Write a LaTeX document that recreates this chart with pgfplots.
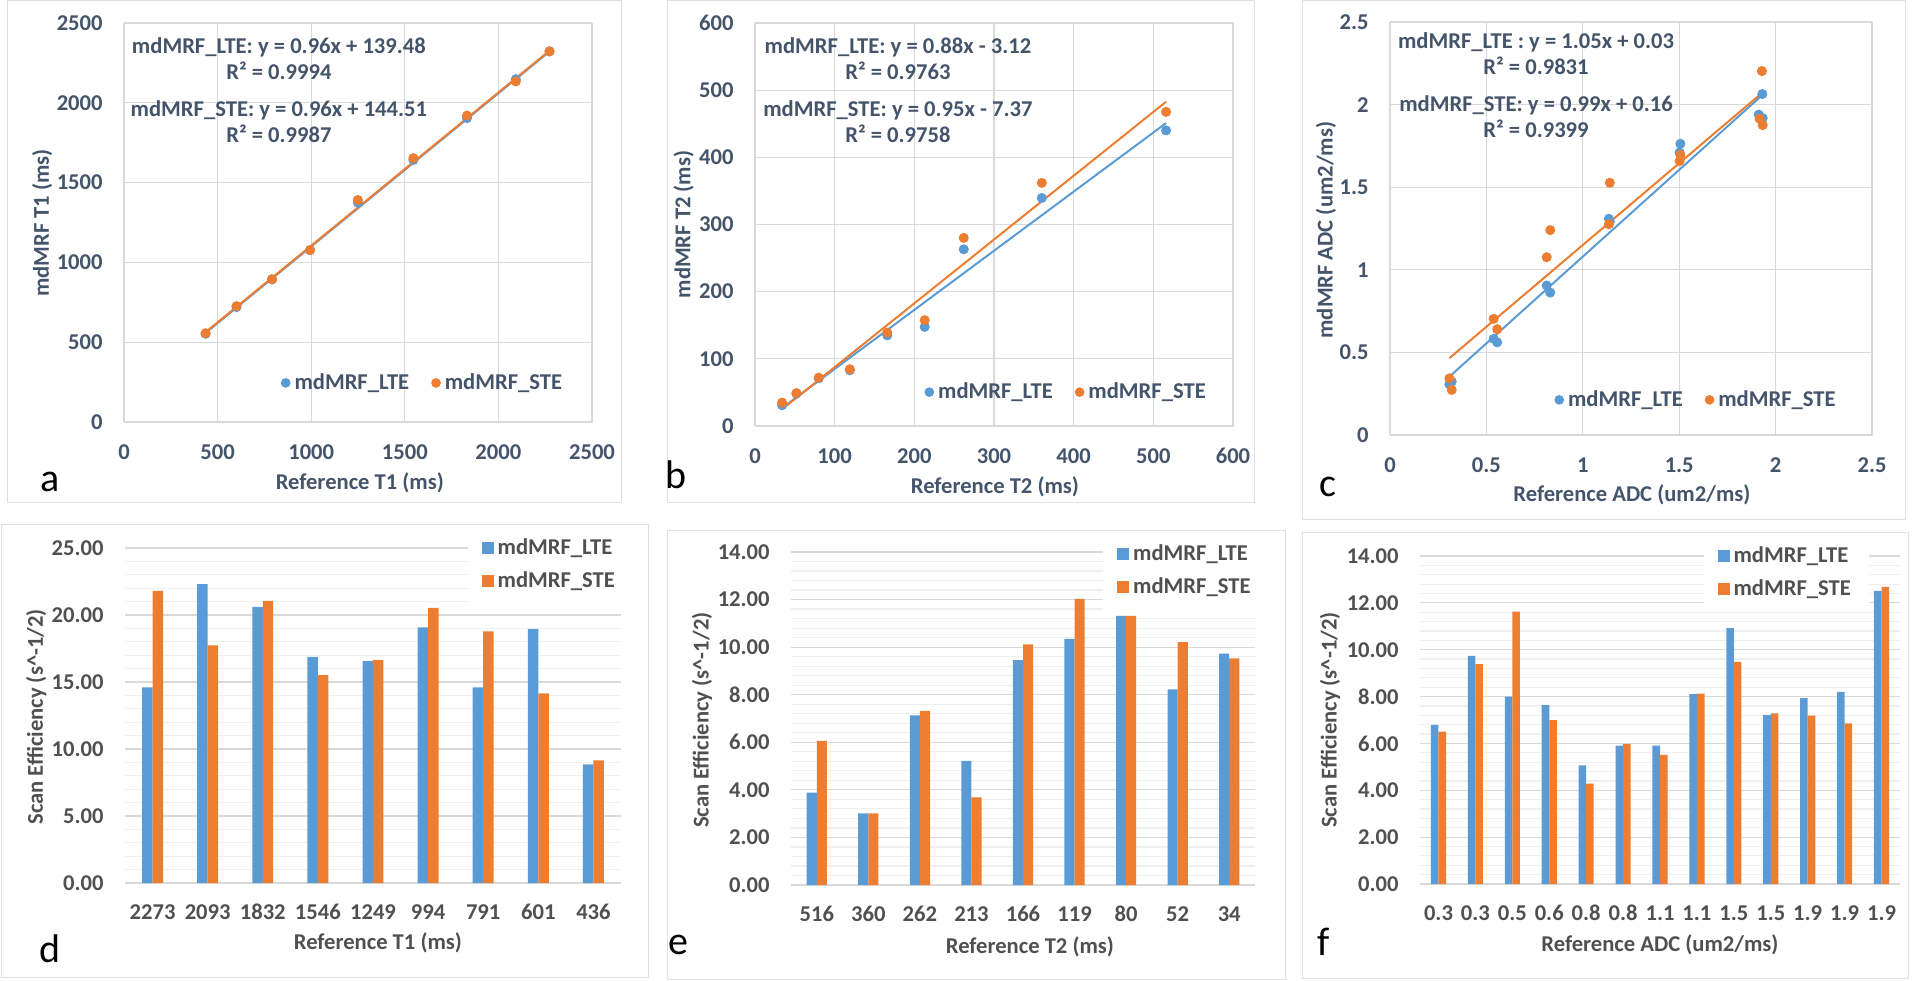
\documentclass[border=0pt]{standalone}
\usepackage{fontspec}
\setmainfont{Carlito}
\usepackage{pgfplots}
\pgfplotsset{compat=1.18}

\definecolor{lte}{HTML}{5B9BD5}
\definecolor{ste}{HTML}{ED7D31}
\definecolor{topc}{HTML}{44546A}
\definecolor{botc}{HTML}{505050}
\definecolor{gridc}{HTML}{D9D9D9}
\definecolor{minorc}{HTML}{EFEFEF}
\definecolor{framec}{HTML}{E0E0E0}
\newcommand{\tf}{\fontsize{11.3}{13}\selectfont\bfseries}

\pgfplotsset{
  scat/.style={
    scale only axis, anchor=south west,
    /pgf/number format/assume math mode=true,
    axis line style={draw=gridc},
    grid=major, major grid style={draw=gridc, line width=0.6pt},
    major tick length=0pt,
    tick label style={font=\tf, text=topc},
    label style={font=\tf, text=topc},
    yticklabel style={anchor=east, inner sep=0pt, xshift=-10.5pt},
    xticklabel style={anchor=center, inner sep=0pt, yshift=-15pt},
    legend columns=2,
    legend style={draw=none, fill=none, font=\tf, text=topc, anchor=center,
      /tikz/every even column/.append style={column sep=9pt}},
  },
  dot/.style={only marks, mark=*, mark size=2.3pt, mark options={draw=#1, fill=#1},
    legend image code/.code={\fill[#1] (2.2pt,0pt) circle (2.2pt);}},
  trend/.style={draw=#1, line width=1pt, no marks, forget plot},
  barc/.style={
    scale only axis, anchor=south west,
    /pgf/number format/assume math mode=true,
    axis x line*=bottom, axis y line*=left, axis line style={-},
    x axis line style={draw=gridc, line width=0.6pt}, y axis line style={draw=none},
    ymajorgrids, yminorgrids,
    major grid style={draw=gridc, line width=0.6pt},
    minor grid style={draw=minorc, line width=0.6pt},
    major tick length=0pt, minor tick length=0pt,
    ymin=0,
    tick label style={font=\tf, text=botc},
    label style={font=\tf, text=botc},
    yticklabel style={anchor=east, inner sep=0pt, xshift=-10.5pt},
    xticklabel style={anchor=center, inner sep=0pt, yshift=-14.5pt},
    legend cell align=left,
    legend style={draw=none, fill=white, font=\tf, text=botc, anchor=north west,
      inner xsep=7pt, inner ysep=4.5pt, row sep=3.2pt},
  },
  bars/.style={ybar, draw=none, fill=#1,
    legend image code/.code={\fill[#1] (0pt,-3pt) rectangle (6pt,3pt);}},
}

\begin{document}
\begin{tikzpicture}
\path[use as bounding box] (0pt,0pt) rectangle (960pt,490pt);

% panel frames
\draw[framec, line width=0.5pt] (3.5pt,489.5pt) rectangle (310.5pt,238.5pt);
\draw[framec, line width=0.5pt] (333.5pt,489.5pt) rectangle (627pt,238.5pt);
\draw[framec, line width=0.5pt] (651pt,489.5pt) rectangle (952.5pt,230pt);
\draw[framec, line width=0.5pt] (0.5pt,227.5pt) rectangle (324pt,1.5pt);
\draw[framec, line width=0.5pt] (333.5pt,224.5pt) rectangle (642.5pt,0.5pt);
\draw[framec, line width=0.5pt] (651pt,223.5pt) rectangle (954pt,1pt);

% ---------- a ----------
\begin{axis}[scat, at={(62pt,279pt)}, width=234pt, height=199.5pt,
  xmin=0, xmax=2500, ymin=0, ymax=2500,
  xtick={0,500,1000,1500,2000,2500}, xticklabels={0,500,1000,1500,2000,2500},
  ytick={0,500,1000,1500,2000,2500}, yticklabels={0,500,1000,1500,2000,2500},
  xlabel={Reference T1 (ms)}, ylabel={mdMRF T1 (ms)},
  xlabel style={at={(axis description cs:0.504,-0.153)}, anchor=center},
  ylabel style={at={(axis description cs:-0.175,0.499)}, anchor=center},
  legend style={at={(0.64,0.098)}}]
\addplot[dot=lte] coordinates {(436,553) (601,720) (791,893) (994,1077) (1249,1375) (1546,1642) (1832,1904) (2093,2148) (2273,2322)};
\addlegendentry{mdMRF\_LTE}
\addplot[dot=ste] coordinates {(436,556) (601,726) (791,895) (994,1077) (1249,1391) (1546,1653) (1832,1920) (2093,2134) (2273,2322)};
\addlegendentry{mdMRF\_STE}
\addplot[trend=lte] coordinates {(436,558.0) (2273,2321.6)};
\addplot[trend=ste] coordinates {(436,563.1) (2273,2326.6)};
\node[align=center, font=\tf, text=topc] at (rel axis cs:0.331,0.910) {mdMRF\_LTE: y = 0.96x + 139.48\\R² = 0.9994};
\node[align=center, font=\tf, text=topc] at (rel axis cs:0.331,0.752) {mdMRF\_STE: y = 0.96x + 144.51\\R² = 0.9987};
\end{axis}

% ---------- b ----------
\begin{axis}[scat, at={(377.5pt,277pt)}, width=239pt, height=201.5pt,
  xmin=0, xmax=600, ymin=0, ymax=600,
  xtick={0,100,...,600}, xticklabels={0,100,200,300,400,500,600},
  ytick={0,100,...,600}, yticklabels={0,100,200,300,400,500,600},
  xlabel={Reference T2 (ms)}, ylabel={mdMRF T2 (ms)},
  xlabel style={at={(axis description cs:0.502,-0.151)}, anchor=center},
  ylabel style={at={(axis description cs:-0.149,0.5)}, anchor=center},
  legend style={at={(0.653,0.084)}}]
\addplot[dot=lte] coordinates {(34,31) (52,48) (80,71) (119,83) (166,135) (213,147.6) (262,263) (360,339.5) (516,440)};
\addlegendentry{mdMRF\_LTE}
\addplot[dot=ste] coordinates {(34,34.8) (52,49) (80,72) (119,84.5) (166,139) (213,157.6) (262,280) (360,362) (516,467.7)};
\addlegendentry{mdMRF\_STE}
\addplot[trend=lte] coordinates {(34,26.8) (516,451.0)};
\addplot[trend=ste] coordinates {(34,24.9) (516,482.8)};
\node[align=center, font=\tf, text=topc] at (rel axis cs:0.299,0.911) {mdMRF\_LTE: y = 0.88x - 3.12\\R² = 0.9763};
\node[align=center, font=\tf, text=topc] at (rel axis cs:0.299,0.756) {mdMRF\_STE: y = 0.95x - 7.37\\R² = 0.9758};
\end{axis}

% ---------- c ----------
\begin{axis}[scat, at={(695pt,272.5pt)}, width=241pt, height=206.5pt,
  xmin=0, xmax=2.5, ymin=0, ymax=2.5,
  xtick={0,0.5,1,1.5,2,2.5}, xticklabels={0,0.5,1,1.5,2,2.5},
  ytick={0,0.5,1,1.5,2,2.5}, yticklabels={0,0.5,1,1.5,2,2.5},
  xlabel={Reference ADC (um2/ms)}, ylabel={mdMRF ADC (um2/ms)},
  xlabel style={at={(axis description cs:0.502,-0.145)}, anchor=center},
  ylabel style={at={(axis description cs:-0.133,0.496)}, anchor=center},
  legend style={at={(0.637,0.085)}}]
\addplot[dot=lte] coordinates {(0.308,0.307) (0.32,0.323) (0.5375,0.582) (0.556,0.561) (0.8125,0.905) (0.831,0.862) (1.135,1.309) (1.14,1.29) (1.506,1.763) (1.502,1.710) (1.9125,1.939) (1.933,1.918) (1.931,2.064)};
\addlegendentry{mdMRF\_LTE}
\addplot[dot=ste] coordinates {(0.308,0.343) (0.32,0.273) (0.5375,0.703) (0.556,0.640) (0.8125,1.076) (0.831,1.240) (1.14,1.527) (1.135,1.276) (1.506,1.696) (1.502,1.658) (1.929,2.203) (1.917,1.914) (1.933,1.876)};
\addlegendentry{mdMRF\_STE}
\addplot[trend=lte] coordinates {(0.308,0.353) (1.933,2.060)};
\addplot[trend=ste] coordinates {(0.308,0.465) (1.933,2.074)};
\node[align=center, font=\tf, text=topc] at (rel axis cs:0.303,0.924) {mdMRF\_LTE : y = 1.05x + 0.03\\R² = 0.9831};
\node[align=center, font=\tf, text=topc] at (rel axis cs:0.303,0.770) {mdMRF\_STE: y = 0.99x + 0.16\\R² = 0.9399};
\end{axis}

% ---------- d ----------
\begin{axis}[barc, at={(62.5pt,48.5pt)}, width=248pt, height=167.5pt,
  xmin=-0.5, xmax=8.5, ymax=25,
  xtick={0,...,8}, xticklabels={2273,2093,1832,1546,1249,994,791,601,436},
  ytick={0,5,...,25}, yticklabels={0.00,5.00,10.00,15.00,20.00,25.00},
  minor y tick num=4,
  xlabel={Reference T1 (ms)}, ylabel={Scan Efficiency (s\^{}-1/2)},
  xlabel style={at={(axis description cs:0.51,-0.179)}, anchor=center},
  ylabel style={at={(axis description cs:-0.179,0.496)}, anchor=center},
  legend style={at={(0.69,1.069)}}]
\addplot[bars=lte, bar width=0.19, bar shift=-0.095] coordinates {(0,14.6) (1,22.3) (2,20.6) (3,16.88) (4,16.56) (5,19.07) (6,14.6) (7,18.94) (8,8.86)};
\addlegendentry{mdMRF\_LTE}
\addplot[bars=ste, bar width=0.19, bar shift=0.095] coordinates {(0,21.8) (1,17.73) (2,21.05) (3,15.52) (4,16.63) (5,20.53) (6,18.77) (7,14.15) (8,9.16)};
\addlegendentry{mdMRF\_STE}
\end{axis}

% ---------- e ----------
\begin{axis}[barc, at={(395.5pt,47.5pt)}, width=232pt, height=166.5pt,
  xmin=-0.5, xmax=8.5, ymax=14,
  xtick={0,...,8}, xticklabels={516,360,262,213,166,119,80,52,34},
  ytick={0,2,...,14}, yticklabels={0.00,2.00,4.00,6.00,8.00,10.00,12.00,14.00},
  minor y tick num=4,
  xlabel={Reference T2 (ms)}, ylabel={Scan Efficiency (s\^{}-1/2)},
  xlabel style={at={(axis description cs:0.515,-0.186)}, anchor=center},
  ylabel style={at={(axis description cs:-0.192,0.495)}, anchor=center},
  legend style={at={(0.672,1.063)}}]
\addplot[bars=lte, bar width=0.196, bar shift=-0.098] coordinates {(0,3.88) (1,3.01) (2,7.13) (3,5.22) (4,9.45) (5,10.35) (6,11.31) (7,8.22) (8,9.73)};
\addlegendentry{mdMRF\_LTE}
\addplot[bars=ste, bar width=0.196, bar shift=0.098] coordinates {(0,6.06) (1,3.01) (2,7.32) (3,3.68) (4,10.12) (5,12.03) (6,11.31) (7,10.21) (8,9.53)};
\addlegendentry{mdMRF\_STE}
\end{axis}

% ---------- f ----------
\begin{axis}[barc, at={(710pt,48pt)}, width=240pt, height=164pt,
  xmin=-0.5, xmax=12.5, ymax=14,
  xtick={0,...,12}, xticklabels={0.3,0.3,0.5,0.6,0.8,0.8,1.1,1.1,1.5,1.5,1.9,1.9,1.9},
  ytick={0,2,...,14}, yticklabels={0.00,2.00,4.00,6.00,8.00,10.00,12.00,14.00},
  minor y tick num=4,
  xlabel={Reference ADC (um2/ms)}, ylabel={Scan Efficiency (s\^{}-1/2)},
  xlabel style={at={(axis description cs:0.5,-0.186)}, anchor=center},
  ylabel style={at={(axis description cs:-0.1875,0.5)}, anchor=center},
  legend style={at={(0.59,1.07)}}]
\addplot[bars=lte, bar width=0.205, bar shift=-0.1025] coordinates {(0,6.79) (1,9.74) (2,8.00) (3,7.63) (4,5.06) (5,5.91) (6,5.91) (7,8.10) (8,10.92) (9,7.22) (10,7.93) (11,8.20) (12,12.51)};
\addlegendentry{mdMRF\_LTE}
\addplot[bars=ste, bar width=0.205, bar shift=0.1025] coordinates {(0,6.50) (1,9.38) (2,11.63) (3,6.99) (4,4.28) (5,5.98) (6,5.51) (7,8.13) (8,9.48) (9,7.28) (10,7.19) (11,6.86) (12,12.68)};
\addlegendentry{mdMRF\_STE}
\end{axis}

% panel letters
\node[font=\fontsize{20}{22}\selectfont] at (25pt,249pt) {a};
\node[font=\fontsize{20}{22}\selectfont] at (338pt,252.5pt) {b};
\node[font=\fontsize{20}{22}\selectfont] at (664pt,246.5pt) {c};
\node[font=\fontsize{20}{22}\selectfont] at (25pt,15.5pt) {d};
\node[font=\fontsize{20}{22}\selectfont] at (339pt,17.5pt) {e};
\node[font=\fontsize{20}{22}\selectfont] at (662pt,19pt) {f};
\end{tikzpicture}
\end{document}
